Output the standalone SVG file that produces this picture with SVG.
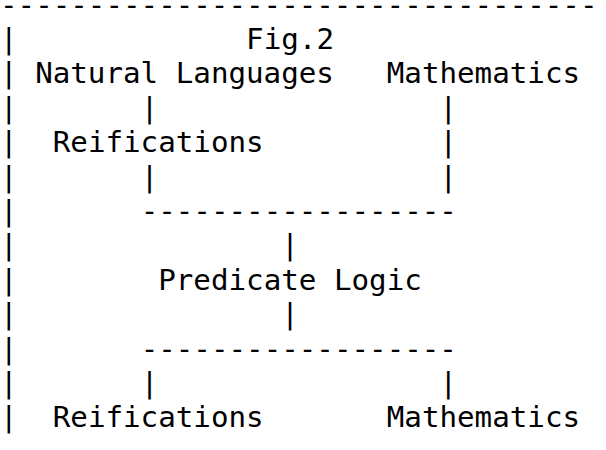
<svg xmlns="http://www.w3.org/2000/svg" width="606" height="450" viewBox="0 0 606 450">
  <style>
    text { font-family: "DejaVu Sans Mono", "Liberation Mono", monospace; font-size: 29.2px; fill: #000; }
  </style>
  <rect width="606" height="450" fill="#fff"/>
  <g id="connectors">
    <text x="0" y="14.5">----------------------------------</text>
    <text x="0" y="48.9">|</text>
    <text x="0" y="83.3">|</text>
    <text x="0" y="117.7">|</text>
    <text x="0" y="152.1">|</text>
    <text x="0" y="186.5">|</text>
    <text x="0" y="220.9">|</text>
    <text x="0" y="255.3">|</text>
    <text x="0" y="289.7">|</text>
    <text x="0" y="324.1">|</text>
    <text x="0" y="358.5">|</text>
    <text x="0" y="392.9">|</text>
    <text x="0" y="427.3">|</text>
    <text x="140.64" y="117.7">|</text>
    <text x="439.5" y="117.7">|</text>
    <text x="439.5" y="152.1">|</text>
    <text x="140.64" y="186.5">|</text>
    <text x="439.5" y="186.5">|</text>
    <text x="140.64" y="220.9">------------------</text>
    <text x="281.28" y="255.3">|</text>
    <text x="281.28" y="324.1">|</text>
    <text x="140.64" y="358.5">------------------</text>
    <text x="140.64" y="392.9">|</text>
    <text x="439.5" y="392.9">|</text>
  </g>
  <g id="title"><text x="246.12" y="48.9">Fig.2</text></g>
  <g id="natural-languages"><text x="35.16" y="83.3">Natural Languages</text></g>
  <g id="mathematics-top"><text x="386.76" y="83.3">Mathematics</text></g>
  <g id="reifications-top"><text x="52.74" y="152.1">Reifications</text></g>
  <g id="predicate-logic"><text x="158.22" y="289.7">Predicate Logic</text></g>
  <g id="reifications-bottom"><text x="52.74" y="427.3">Reifications</text></g>
  <g id="mathematics-bottom"><text x="386.76" y="427.3">Mathematics</text></g>
</svg>
